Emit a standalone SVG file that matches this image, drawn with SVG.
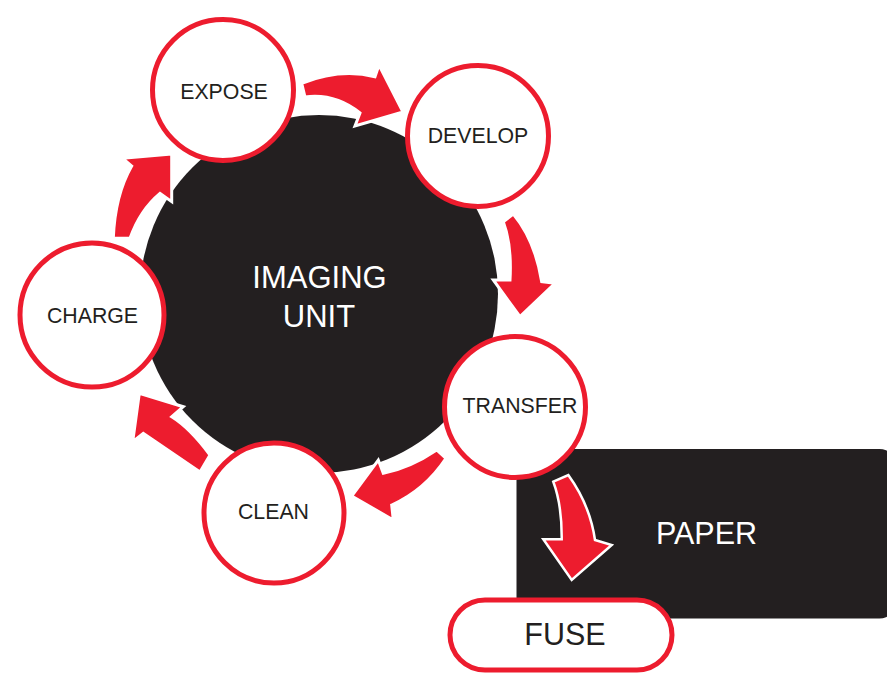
<svg xmlns="http://www.w3.org/2000/svg" width="887" height="682" viewBox="0 0 887 682">
<style>
.node{fill:#fff;stroke:#ed1c2e;stroke-width:5}
.lbl{font-family:"Liberation Sans",Arial,sans-serif;font-size:21.3px;fill:#231f20;text-anchor:middle}
.big{font-family:"Liberation Sans",Arial,sans-serif;font-size:31px;fill:#fff;text-anchor:middle}
.arr{fill:#ed1c2e;stroke:#fff;stroke-width:3;stroke-linejoin:miter}
</style>
<rect width="887" height="682" fill="#fff"/>
<g id="imaging-unit">
<circle cx="319" cy="294" r="179" fill="#231f20"/>
<text class="big" x="319.5" y="288">IMAGING</text>
<text class="big" x="319" y="327">UNIT</text>
</g>
<g id="paper">
<rect x="516.5" y="449" width="380" height="169.5" rx="17" fill="#231f20"/>
<text class="big" x="706.5" y="544" style="font-size:30.5px">PAPER</text>
</g>
<g id="connectors">
<path class="arr" d="M301.7,83.3 Q340,68 375,76.7 L379,65 L403,112 L355,126 L360,113 Q335,93 305,97 Z"/>
<path class="arr" d="M503.3,221.7 L513.3,214 Q535,240 541.7,281.7 L555,283.3 L520,316.7 L493.3,280 L510,280 Q512,245 503.3,221.7 Z"/>
<path class="arr" d="M436.7,450 Q410,468 383.3,473.3 L378.3,460 L351.7,496 L393.3,520 L391.7,505 Q425,490 446,458.3 Z"/>
<path class="arr" d="M210,455 Q190,428 171.7,416.7 L183.3,406.7 L139.3,393.3 L132.7,441.7 L143.3,433.3 Q165,448 200,472 Z"/>
<path class="arr" d="M113.3,238.3 Q115,195 131.7,166 L122.7,158.3 L171.7,154 L171.7,201.7 L160,193.3 Q140,210 130,238.3 Z"/>
<path class="arr" style="stroke-width:2.5" d="M553.3,481.7 L568.3,475 Q590,505 595,540 L611.7,545 L571.7,580 L543.3,539.3 L561.7,539.3 Q562,505 553.3,481.7 Z"/>
</g>
<g id="expose">
<circle class="node" cx="223" cy="90" r="70.5"/>
<text class="lbl" x="224" y="99">EXPOSE</text>
</g>
<g id="develop">
<circle class="node" cx="478" cy="136" r="70.5"/>
<text class="lbl" x="478" y="143">DEVELOP</text>
</g>
<g id="transfer">
<circle class="node" cx="515" cy="407" r="70.5"/>
<text class="lbl" x="520" y="413">TRANSFER</text>
</g>
<g id="clean">
<circle class="node" cx="274" cy="513" r="70"/>
<text class="lbl" x="273.5" y="519">CLEAN</text>
</g>
<g id="charge">
<circle class="node" cx="92" cy="315" r="72"/>
<text class="lbl" x="92.5" y="323">CHARGE</text>
</g>
<g id="fuse">
<rect class="node" x="450" y="600" width="222" height="70" rx="35"/>
<text class="lbl" x="565" y="645" style="font-size:30.5px">FUSE</text>
</g>
</svg>
